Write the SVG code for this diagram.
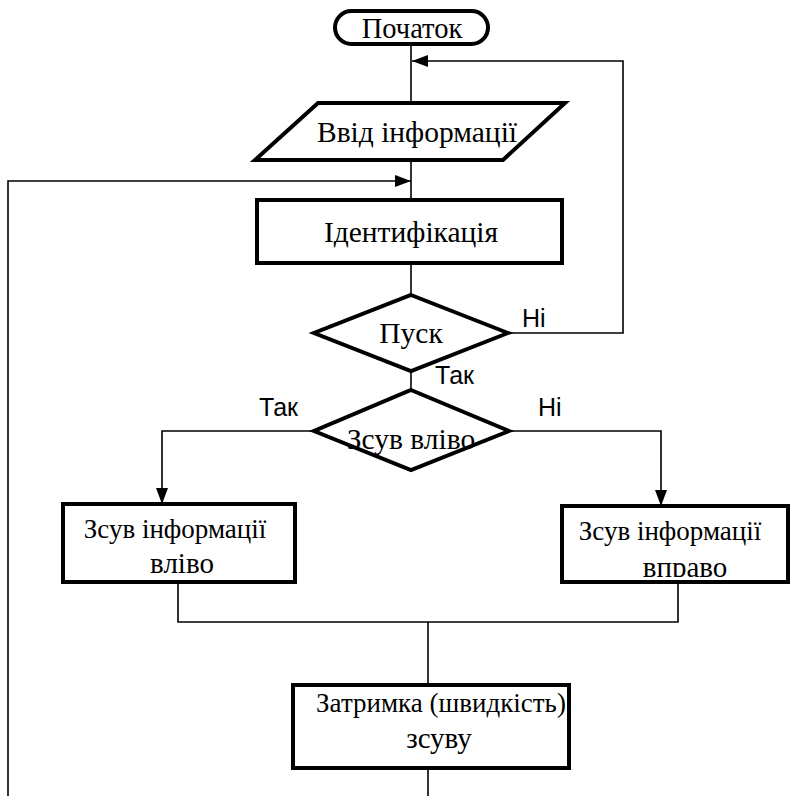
<svg xmlns="http://www.w3.org/2000/svg" width="790" height="796" viewBox="0 0 790 796">
<defs>
<style>
.shape{fill:#fff;stroke:#000;stroke-width:4}
.conn{fill:none;stroke:#000;stroke-width:1.6}
.t{font-family:"Liberation Serif","Times New Roman",serif;font-size:29.5px;fill:#000;text-anchor:middle}
.s{font-size:27px}
.m{font-size:29px}
.l{font-family:"Liberation Sans",Arial,sans-serif;font-size:25px;fill:#000}
</style>
<marker id="arr" markerUnits="userSpaceOnUse" markerWidth="16" markerHeight="12" viewBox="0 0 16 12" refX="16" refY="6" orient="auto">
<path d="M0,0 L16,6 L0,12 z" fill="#000"/>
</marker>
<clipPath id="clipR"><rect x="560" y="500" width="230" height="77"/></clipPath>
</defs>
<rect width="790" height="796" fill="#fff"/>
<g id="connectors">
<path class="conn" d="M411,44 V103"/>
<path class="conn" d="M411,160 V200"/>
<path class="conn" d="M8,796 V181 H411" marker-end="url(#arr)"/>
<path class="conn" d="M508,333 H623 V61 H412" marker-end="url(#arr)"/>
<path class="conn" d="M411,263 V295"/>
<path class="conn" d="M411,371 V390"/>
<path class="conn" d="M314,431 H162 V504" marker-end="url(#arr)"/>
<path class="conn" d="M509,431 H661 V506" marker-end="url(#arr)"/>
<path class="conn" d="M178,582 V622 H678 V583"/>
<path class="conn" d="M428,622 V685"/>
<path class="conn" d="M428,768 V796"/>
<text class="l" x="522" y="327">Ні</text>
<text class="l" x="435" y="384">Так</text>
<text class="l" x="259" y="416">Так</text>
<text class="l" x="538" y="416">Ні</text>
</g>
<g id="start">
<rect class="shape" x="335" y="11" width="153" height="33" rx="16.5"/>
<text class="t" x="412" y="38" style="font-size:28.5px">Початок</text>
</g>
<g id="input">
<path class="shape" d="M318,103 L565,103 L503,160 L255,160 Z"/>
<text class="t" x="417" y="142">Ввід інформації</text>
</g>
<g id="ident">
<rect class="shape" x="257" y="200" width="305" height="63"/>
<text class="t" x="411" y="242">Ідентифікація</text>
</g>
<g id="start-check">
<path class="shape" d="M411,295 L508,333 L411,371 L314,333 Z"/>
<text class="t" x="411" y="343">Пуск</text>
</g>
<g id="dir-check">
<path class="shape" d="M411,390 L509,431 L411,470 L314,431 Z"/>
<text class="t" x="411" y="449">Зсув вліво</text>
</g>
<g id="shift-left">
<rect class="shape" x="63" y="504" width="232" height="78"/>
<text class="t s" x="175" y="538">Зсув інформації</text>
<text class="t m" x="182" y="573">вліво</text>
</g>
<g id="shift-right">
<rect class="shape" x="562" y="506" width="226" height="76"/>
<g clip-path="url(#clipR)">
<text class="t s" x="670" y="540">Зсув інформації</text>
<text class="t m" x="685" y="577">вправо</text>
</g>
</g>
<g id="delay">
<rect class="shape" x="293" y="685" width="276" height="83"/>
<text class="t s" x="441" y="712">Затримка (швидкість)</text>
<text class="t m" x="439" y="748">зсуву</text>
</g>
</svg>
